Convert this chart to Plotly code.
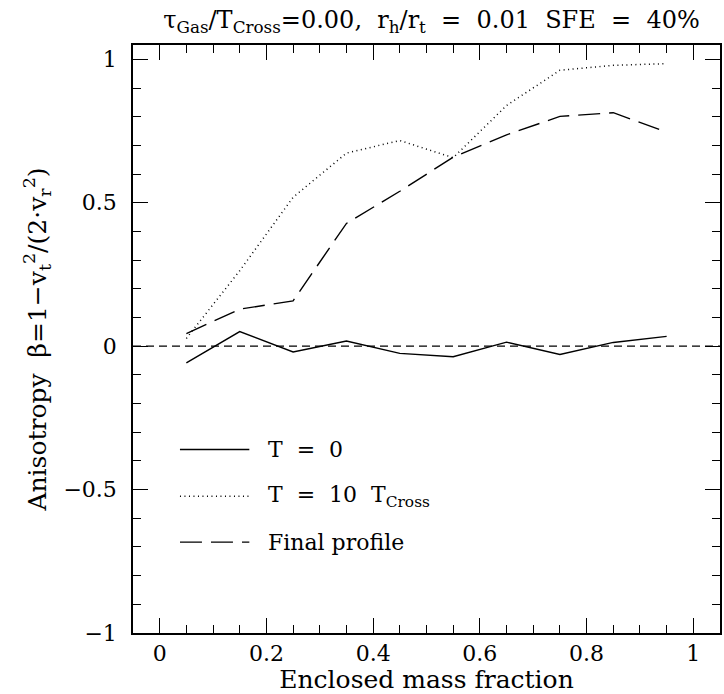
import plotly.graph_objects as go

mass_frac = [0.05, 0.15, 0.25, 0.35, 0.45, 0.55, 0.65, 0.75, 0.85, 0.95]
beta_t0 = [-0.058, 0.051, -0.020, 0.018, -0.025, -0.037, 0.014, -0.029, 0.013, 0.034]
beta_t10 = [0.027, 0.263, 0.519, 0.673, 0.717, 0.657, 0.839, 0.962, 0.979, 0.985]
beta_final = [0.044, 0.129, 0.158, 0.428, 0.540, 0.659, 0.737, 0.801, 0.814, 0.746]

NB = "\u00a0"
legend_names = ["T" + NB * 2 + "=" + NB * 2 + "0",
                "T" + NB * 2 + "=" + NB * 2 + "10" + NB * 2 + "T<sub>Cross</sub>",
                "Final" + NB + "profile"]
x_ticks = [0, 0.2, 0.4, 0.6, 0.8, 1]
x_tick_text = ["0", "0.2", "0.4", "0.6", "0.8", "1"]
y_ticks = [-1, -0.5, 0, 0.5, 1]
y_tick_text = ["\u22121", "\u22120.5", "0", "0.5", "1"]

FONT = "DejaVu Serif"
styles = [dict(dash="solid", width=1.4),
          dict(dash="1px,3.5px", width=1.5),
          dict(dash="22px,9px", width=1.4)]

fig = go.Figure()
for ys, st in zip([beta_t0, beta_t10, beta_final], styles):
    fig.add_trace(go.Scatter(x=mass_frac, y=ys, mode="lines",
                             line=dict(color="black", **st), showlegend=False,
                             hoverinfo="skip"))

# zero reference line
fig.add_shape(type="line", xref="paper", x0=0, x1=1, yref="y", y0=0, y1=0,
              line=dict(color="black", width=1.2, dash="8px,5px"))

# legend keys (lower-left, inside the axes)
leg_y = [-0.36, -0.523, -0.683]
leg_x0, leg_x1, leg_tx = 0.038, 0.168, 0.20
for yy, st, name in zip(leg_y, styles, legend_names):
    fig.add_shape(type="line", xref="x", yref="y", x0=leg_x0, x1=leg_x1, y0=yy, y1=yy,
                  line=dict(color="black", **st))
    fig.add_annotation(x=leg_tx, y=yy, xref="x", yref="y", text=name, showarrow=False,
                       xanchor="left", yanchor="middle",
                       font=dict(family=FONT, size=22, color="black"))

axis_common = dict(showgrid=False, zeroline=False, showline=True, linecolor="black",
                   linewidth=1.5, mirror="allticks", ticks="inside", tickcolor="black",
                   tickwidth=1.3, tickfont=dict(family=FONT, size=22, color="black"))

fig.update_xaxes(range=[-0.05, 1.05], tickvals=x_ticks, ticktext=x_tick_text, ticklen=15,
                 minor=dict(dtick=0.05, ticks="inside", ticklen=8, tickcolor="black", tickwidth=1.3),
                 title=dict(text="Enclosed" + NB + "mass" + NB + "fraction",
                            font=dict(family=FONT, size=25, color="black"), standoff=0),
                 ticklabelstandoff=0, **axis_common)
fig.update_yaxes(range=[-1, 1.05], tickvals=y_ticks, ticktext=y_tick_text, ticklen=15,
                 minor=dict(dtick=0.1, ticks="inside", ticklen=8, tickcolor="black", tickwidth=1.3),
                 title=dict(text="Anisotropy" + NB * 2 + "\u03b2=1\u2212v<sub>t</sub><sup>2</sup>/(2\u00b7v<sub>r</sub><sup>2</sup>)",
                            font=dict(family=FONT, size=25, color="black"), standoff=10),
                 ticklabelstandoff=10, **axis_common)

fig.update_layout(
    width=724, height=694,
    margin=dict(l=133, r=2, t=45, b=61),
    paper_bgcolor="white", plot_bgcolor="white",
    hovermode=False,
    title=dict(text="\u03c4<sub>Gas</sub>/T<sub>Cross</sub>=0.00," + NB * 2 + "r<sub>h</sub>/r<sub>t</sub>"
                    + NB * 2 + "=" + NB * 2 + "0.01" + NB * 2 + "SFE" + NB * 2 + "=" + NB * 2 + "40%",
               x=0.596, xanchor="center", y=0.972, yanchor="middle",
               font=dict(family=FONT, size=24, color="black")),
)

fig.write_html("out.html", config={"displayModeBar": False},
               post_script="document.body.style.margin='0';")
